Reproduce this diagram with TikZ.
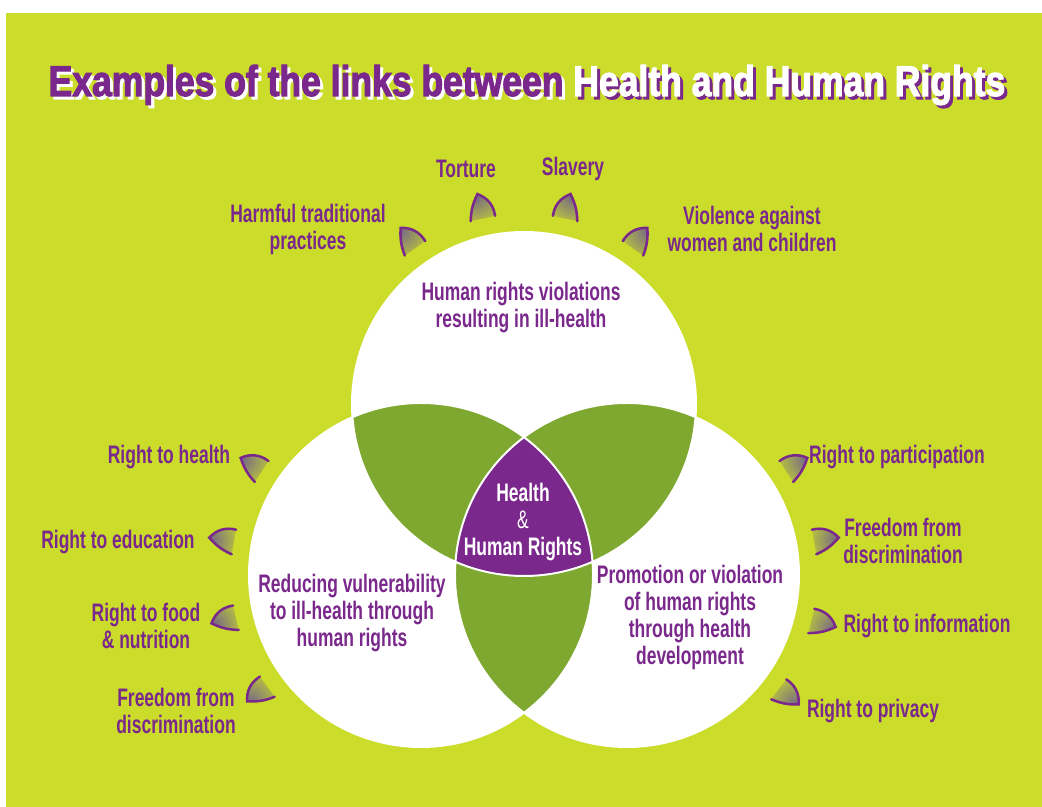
\documentclass[tikz,border=0pt]{standalone}
\usepackage{fontspec}
\setmainfont{Liberation Sans}
\newfontfamily\labelfont[FakeStretch=0.69]{Liberation Sans}
\newfontfamily\titlefont[FakeStretch=0.825, FakeBold=2.5]{Liberation Sans}
\usepackage{tikz}
\usetikzlibrary{calc}
\definecolor{bglime}{RGB}{203,220,42}
\definecolor{lensgreen}{RGB}{126,168,48}
\definecolor{hrpurple}{RGB}{122,40,140}
\definecolor{petalgrey}{RGB}{118,104,134}
\tikzstyle{tag} = [text=hrpurple, font=\labelfont\bfseries\fontsize{18}{19.2}\selectfont, align=center, inner sep=0pt]
\tikzstyle{centretag} = [tag, text=white]
\tikzstyle{heading} = [font=\titlefont\bfseries\fontsize{30.6}{36}\selectfont, inner sep=0pt, anchor=base]
\tikzstyle{petalline} = [hrpurple, line width=1.8pt, line cap=round]
\tikzset{petal/.pic={
  \begin{scope}
    \clip (-12.5,-25) to[bend left=12] (0,0) to[bend left=30] (12.5,-25) -- cycle;
    \shade[inner color=petalgrey, outer color=bglime] (-2,-2) circle[radius=32];
  \end{scope}
  \draw[petalline] (-12.5,-25) to[bend left=12] (0,0) to[bend left=30] (12.5,-25);
}}

\begin{document}
\begin{tikzpicture}[x=0.025cm, y=0.025cm]
	\useasboundingbox (0,0) rectangle (1042,807);
	\fill[bglime] (6,0) rectangle (1042,794);
	\coordinate (topc) at (524,403);
	\coordinate (leftc) at (421,232);
	\coordinate (rightc) at (627,232);
	% the three circles
	\fill[white] (topc) circle[radius=172];
	\fill[white] (leftc) circle[radius=172];
	\fill[white] (rightc) circle[radius=172];
	\begin{scope}
		\clip (topc) circle[radius=172];
		\fill[lensgreen] (leftc) circle[radius=172];
		\fill[lensgreen] (rightc) circle[radius=172];
	\end{scope}
	\begin{scope}
		\clip (leftc) circle[radius=172];
		\fill[lensgreen] (rightc) circle[radius=172];
	\end{scope}
	\begin{scope}
		\clip (topc) circle[radius=172];
		\clip (leftc) circle[radius=172];
		\fill[hrpurple] (rightc) circle[radius=172];
	\end{scope}
	\draw[white, line width=1.4pt] (topc) circle[radius=172] (leftc) circle[radius=172] (rightc) circle[radius=172];
	% petals
	\pic[rotate=35] at ($(topc)+(125:215)$) {petal};
	\pic[rotate=12.5] at ($(topc)+(102.5:215)$) {petal};
	\pic[rotate=-12.5, xscale=-1] at ($(topc)+(77.5:215)$) {petal};
	\pic[rotate=-35, xscale=-1] at ($(topc)+(55:215)$) {petal};
	\pic[rotate=57] at ($(leftc)+(147:215)$) {petal};
	\pic[rotate=80] at ($(leftc)+(170:215)$) {petal};
	\pic[rotate=103] at ($(leftc)+(193:215)$) {petal};
	\pic[rotate=126] at ($(leftc)+(216:215)$) {petal};
	\pic[rotate=-57, xscale=-1] at ($(rightc)+(33:215)$) {petal};
	\pic[rotate=-80, xscale=-1] at ($(rightc)+(10:215)$) {petal};
	\pic[rotate=-104, xscale=-1] at ($(rightc)+(-14:215)$) {petal};
	\pic[rotate=-127, xscale=-1] at ($(rightc)+(-37:215)$) {petal};
	% labels
	\node (harmful) at (308,578) [tag] {Harmful traditional\\practices};
	\node (torture) at (466,638) [tag] {Torture};
	\node (slavery) at (573,638) [tag] {Slavery};
	\node (violence) at (752,578) [tag] {Violence against\\women and children};
	\node (violations) at (521,499) [tag] {Human rights violations\\resulting in ill-health};
	\node (health) at (169,350) [tag] {Right to health};
	\node (education) at (118,265) [tag] {Right to education};
	\node (food) at (146,181) [tag] {Right to food\\\& nutrition};
	\node (freedomleft) at (176,96) [tag] {Freedom from\\discrimination};
	\node (reducing) at (352,194) [tag] {Reducing vulnerability\\to ill-health through\\human rights};
	\node (participation) at (897,350) [tag] {Right to participation};
	\node (freedomright) at (903,266) [tag] {Freedom from\\discrimination};
	\node (information) at (927,181) [tag] {Right to information};
	\node (privacy) at (873,96) [tag] {Right to privacy};
	\node (promotion) at (690,190) [tag] {Promotion or violation\\of human rights\\through health\\development};
	\node (centre) at (523,285) [centretag] {Health\\{\mdseries\&}\\Human Rights};
	% title with shadow
	\node (titleshadow) at (530,708) [heading] {\textcolor{white}{Examples of the links between} \textcolor{hrpurple}{Health and Human Rights}};
	\node (title) at (527,711) [heading] {\textcolor{hrpurple}{Examples of the links between} \textcolor{white}{Health and Human Rights}};
\end{tikzpicture}
\end{document}
